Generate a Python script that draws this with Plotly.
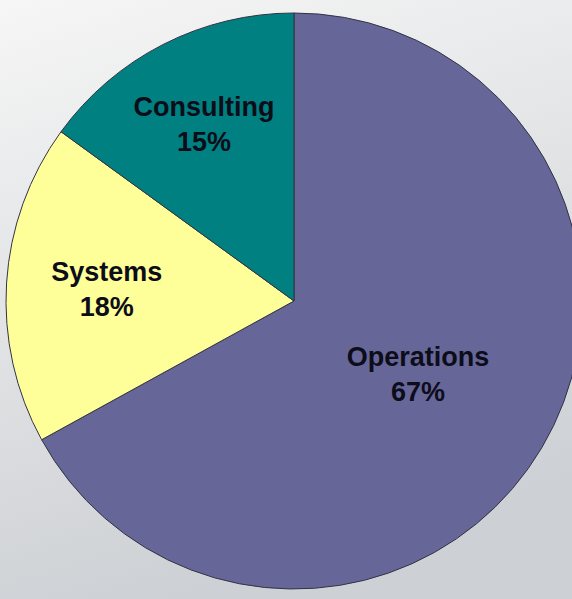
import base64
import plotly.graph_objects as go

labels = ["Operations", "Systems", "Consulting"]
values = [67, 18, 15]
colors = ["#666699", "#FFFF99", "#008080"]

W, H = 588, 599
ML, MR, MT, MB = 6, 6, 13, 10
PW, PH = W - ML - MR, H - MT - MB

svg = (
    f'<svg xmlns="http://www.w3.org/2000/svg" width="{W}" height="{H}">'
    '<defs><linearGradient id="g" x1="0" y1="0" x2="0.3" y2="1">'
    '<stop offset="0" stop-color="#f6f6f6"/>'
    '<stop offset="1" stop-color="#cdd0d4"/>'
    '</linearGradient></defs>'
    f'<rect width="{W}" height="{H}" fill="url(#g)"/>'
    '</svg>'
)
bg = "data:image/svg+xml;base64," + base64.b64encode(svg.encode()).decode()

fig = go.Figure(
    go.Pie(
        labels=labels,
        values=values,
        sort=False,
        direction="clockwise",
        rotation=0,
        marker=dict(colors=colors, line=dict(color="#333344", width=1)),
        texttemplate="<b>%{label}</b><br><b>%{percent:.0%}</b>",
        textposition="inside",
        insidetextorientation="horizontal",
        textfont=dict(family="Liberation Sans, Arial, sans-serif", size=27, color="#0d0d1a"),
        hoverinfo="skip",
        showlegend=False,
    )
)

fig.update_layout(
    width=W,
    height=H,
    margin=dict(l=ML, r=MR, t=MT, b=MB),
    paper_bgcolor="#e4e6e8",
    images=[dict(source=bg, xref="paper", yref="paper",
                 x=-ML / PW, y=1 + MT / PH, sizex=W / PW, sizey=H / PH,
                 xanchor="left", yanchor="top", sizing="stretch", layer="below")],
)

fig.write_html("out.html")
